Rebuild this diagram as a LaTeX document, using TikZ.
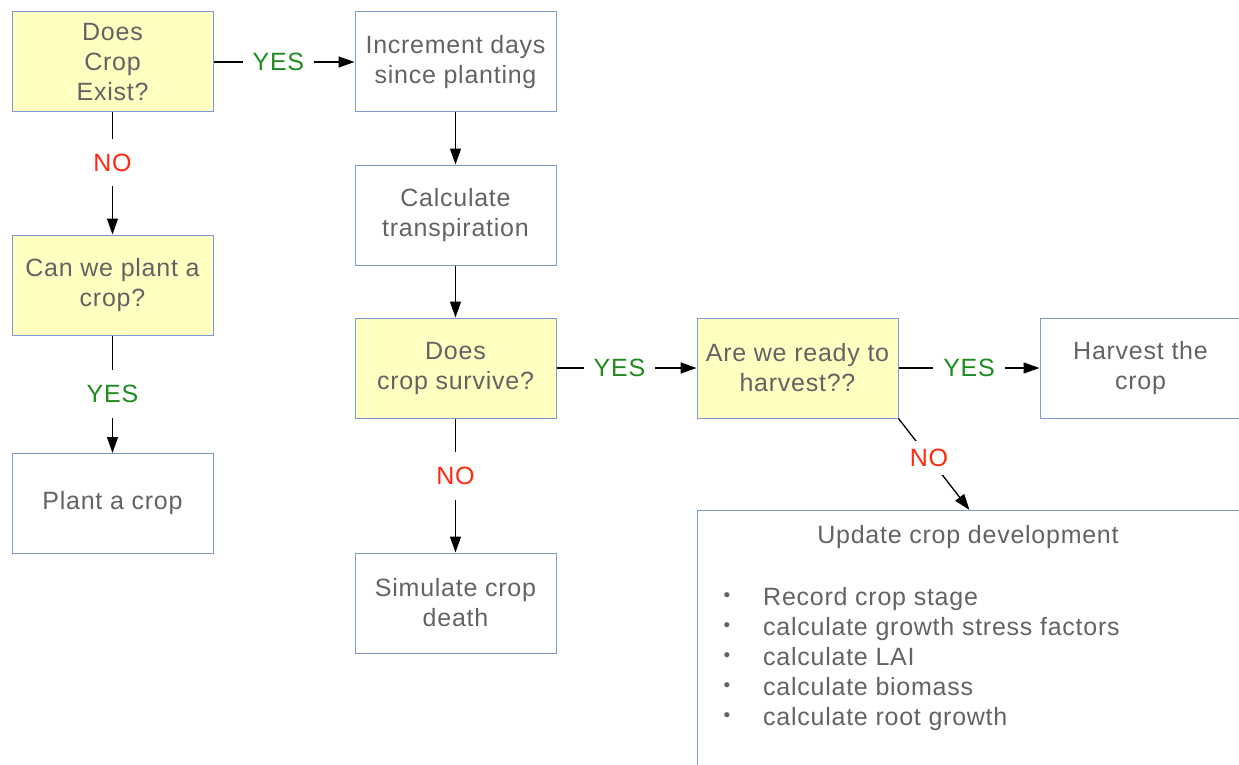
\documentclass[tikz,border=0pt]{standalone}
\usepackage{fontspec}
\setmainfont{Liberation Sans}[LetterSpace=3]
\usetikzlibrary{arrows.meta}
\definecolor{boxline}{HTML}{7F9AD0}
\definecolor{qfill}{HTML}{FFFFC2}
\definecolor{txt}{HTML}{636363}
\definecolor{yesgreen}{HTML}{1E8C1E}
\definecolor{nored}{HTML}{FF2A0F}
\begin{document}
\begin{tikzpicture}[x=1pt,y=-1pt,
  every node/.style={font=\fontsize{25}{30}\selectfont},
  box/.style={draw=boxline, line width=1pt, minimum width=201pt, minimum height=100pt,
    align=center, text=txt, inner sep=0pt},
  ask/.style={box, fill=qfill},
  flow/.style={line width=1.3pt, -{Triangle[length=16pt,width=11pt]}},
  lbl/.style={fill=white, inner xsep=10pt, inner ysep=15pt},
  yes/.style={lbl, text=yesgreen},
  no/.style={lbl, text=nored},
  item/.style={text=txt, inner sep=0pt},
  dot/.style={text=txt, inner sep=0pt, font=\fontsize{19}{19}\selectfont}]
\useasboundingbox (0,0) rectangle (1239,765);
\clip (0,0) rectangle (1239,765);

% decision and process boxes
\node[ask] (A) at (112.5,62) {Does\\Crop\\Exist?};
\node[box] (B) at (455.5,62) {Increment days\\since planting};
\node[box] (C) at (455.5,215) {Calculate\\transpiration};
\node[ask] (D) at (455.5,368) {Does\\crop survive?};
\node[ask] (E) at (797.5,368) {Are we ready to\\harvest??};
\node[box] (F) at (1140.5,368) {Harvest the\\crop};
\node[ask] (G) at (112.5,285) {Can we plant a\\crop?};
\node[box] (H) at (112.5,503.5) {Plant a crop};
\node[box] (I) at (455.5,603) {Simulate crop\\death};
\node[box, minimum width=544pt, minimum height=270pt, anchor=north west] (J) at (697,510) {};

% contents of the crop development box
\node[item] (Jt) at (968,537) {Update crop development};
\foreach \t [count=\i] in {Record crop stage, calculate growth stress factors,
    calculate LAI, calculate biomass, calculate root growth} {
  \node[item, anchor=base west] (li\i) at (763,{605+(\i-1)*30}) {\t};
  \node[dot] (bu\i) at (727,{597+(\i-1)*30}) {•};
}

% connectors
\draw[flow] (A) -- node[yes, pos=0.46] {YES} (B);
\draw[flow] (A) -- node[no, pos=0.41] {NO} (G);
\draw[flow] (G) -- node[yes] {YES} (H);
\draw[flow] (B) -- (C);
\draw[flow] (C) -- (D);
\draw[flow] (D) -- node[no, pos=0.43] {NO} (I);
\draw[flow] (D) -- node[yes, pos=0.45] {YES} (E);
\draw[flow] (E) -- node[yes] {YES} (F);
\draw[flow] (E.south east) -- node[no, pos=0.43, inner sep=8pt] {NO} (J.north);
\end{tikzpicture}
\end{document}
